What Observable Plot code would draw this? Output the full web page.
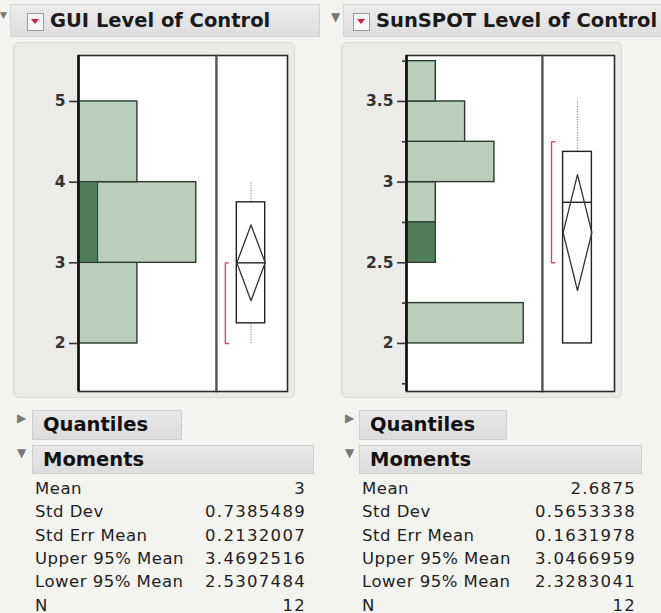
<!DOCTYPE html>
<html>
<head>
<meta charset="utf-8">
<script src="https://cdn.jsdelivr.net/npm/d3@7"></script>
<script src="https://cdn.jsdelivr.net/npm/@observablehq/plot@0.6"></script>
<style>
  html, body { margin: 0; padding: 0; }
  body { width: 661px; height: 613px; overflow: hidden; position: relative; background: #f3f3ef; font-family: "DejaVu Sans", sans-serif; color: #222; }
  .abs { position: absolute; }
  .band { background: linear-gradient(#ececec, #dedede); border: 1px solid #d4d4d4; box-sizing: border-box; }
  .title { font-weight: bold; font-size: 19.5px; white-space: nowrap; color: #1a1a1a; }
  .icon { width: 17px; height: 18px; box-sizing: border-box; border: 1.5px solid #9a9a9a; background: #f6f6f6; }
  .icon::after { content: ""; position: absolute; left: 3px; top: 5px; border-left: 4.5px solid transparent; border-right: 4.5px solid transparent; border-top: 5px solid #d11d3c; }
  .panel { background: #ebebe7; border: 1.5px solid #dcdcd8; border-radius: 5px; box-sizing: border-box; }
  .hdr { background: linear-gradient(#e8e8e8, #dcdcdc); border: 1px solid #cfcfcf; box-sizing: border-box; font-weight: bold; font-size: 19.5px; color: #111; }
  .tri { color: #777; font-size: 12px; }
  .row { font-size: 16.5px; white-space: nowrap; color: #1e1e1e; letter-spacing: 0.5px; }
  .val { text-align: right; letter-spacing: 1.3px; }
</style>
</head>
<body>
<div id="root"></div>
<script>
// ---------- data ----------
const titles = ["GUI Level of Control", "SunSPOT Level of Control"];

// histograms: bin lower edges, counts and selected (highlighted) counts
const guiBinLo = [2, 3, 4];
const guiBinWidth = 1;
const guiCounts = [3, 6, 3];
const guiSelected = [0, 1, 0];

const sunBinLo = [2, 2.25, 2.5, 2.75, 3, 3.25, 3.5];
const sunBinWidth = 0.25;
const sunCounts = [4, 0, 1, 1, 3, 2, 1];
const sunSelected = [0, 0, 1, 0, 0, 0, 0];

// axis ticks
const guiTicks = [2, 3, 4, 5];
const sunTicks = [2, 2.5, 3, 3.5];
const sunMinorTicks = [1.75, 2.25, 2.75, 3.25, 3.75];

// axis ranges
const guiYDomain = [1.405, 5.57];
const sunYDomain = [1.702, 3.785];
const guiCountMax = 7.03;
const sunCountMax = 4.64;

// box plot: min, q1, median, q3, max
const guiBox = [2, 2.25, 3, 3.75, 4];
const sunBox = [2, 2, 2.875, 3.1875, 3.5];
// means diamond: lower 95%, mean, upper 95%
const guiMeanCI = [2.5307484, 3, 3.4692516];
const sunMeanCI = [2.3283041, 2.6875, 3.0466959];
// shortest half bracket
const guiShortHalf = [2, 3];
const sunShortHalf = [2.5, 3.25];

// moments table
const momentLabels = ["Mean", "Std Dev", "Std Err Mean", "Upper 95% Mean", "Lower 95% Mean", "N"];
const guiMoments = ["3", "0.7385489", "0.2132007", "3.4692516", "2.5307484", "12"];
const sunMoments = ["2.6875", "0.5653338", "0.1631978", "3.0466959", "2.3283041", "12"];
const sectionNames = ["Quantiles", "Moments"];

// ---------- layout ----------
const root = document.getElementById("root");
function div(cls, css, text) {
  const d = document.createElement("div");
  d.className = "abs " + cls;
  Object.assign(d.style, css);
  if (text != null) d.textContent = text;
  root.appendChild(d);
  return d;
}

const layout = [
  {x0: 0, band: [10, 320], icon: 27, title: 50, panel: [13, 295], divider: 216, frameR: 288,
   qBox: [32, 182], mBox: [32, 314], tri: 17, label: 35, valR: 306},
  {x0: 330, band: [343, 672], icon: 353, title: 376, panel: [341, 622], divider: 542, frameR: 615,
   qBox: [359, 507], mBox: [359, 642], tri: 345, label: 362, valR: 636}
];

const BOXL = {c: 0.486, h: 0.2, br: 0.125, brTick: 0.045};

function histPlot(binLo, binW, counts, selected, yDomain, xMax, ticks, minor, width) {
  const data = binLo.map((lo, i) => ({lo, hi: lo + binW, n: counts[i], s: selected[i]}));
  const marks = [
    Plot.frame({fill: "white", stroke: null}),
    Plot.rectX(data.filter(d => d.n > 0), {x1: 0, x2: "n", y1: "lo", y2: "hi", fill: "#b9cfbb", stroke: "#2c3a2f", strokeWidth: 1.4}),
    Plot.rectX(data.filter(d => d.s > 0), {x1: 0, x2: "s", y1: "lo", y2: "hi", fill: "#4f7c59", stroke: "#2c3a2f", strokeWidth: 1}),
    Plot.frame({stroke: "#2a2a2a", strokeWidth: 1.6}),
    Plot.ruleX([0], {stroke: "#111", strokeWidth: 2.6}),
    Plot.axisY({ticks, tickSize: 9, tickPadding: 4, label: null, strokeWidth: 1.6, tickFormat: d => String(d)})
  ];
  if (minor) marks.push(Plot.axisY({ticks: minor, tickSize: 4, tickFormat: () => "", label: null, strokeWidth: 1.6}));
  return Plot.plot({
    width, height: 353, marginTop: 12, marginBottom: 5, marginLeft: 65, marginRight: 0,
    x: {domain: [0, xMax], axis: null},
    y: {domain: yDomain},
    style: {background: "transparent", fontFamily: "DejaVu Sans", fontSize: "15.5px", fontWeight: "bold", color: "#333", overflow: "visible"},
    marks
  });
}

function boxPlot(box, ci, half, yDomain, width) {
  const [mn, q1, med, q3, mx] = box;
  const [lo, mean, hi] = ci;
  const L = BOXL;
  const diamond = [
    {x: L.c, y: hi}, {x: L.c + L.h, y: mean}, {x: L.c, y: lo}, {x: L.c - L.h, y: mean}, {x: L.c, y: hi}
  ];
  const bracket = [
    {x: L.br + L.brTick, y: half[0]}, {x: L.br, y: half[0]}, {x: L.br, y: half[1]}, {x: L.br + L.brTick, y: half[1]}
  ];
  const marks = [
    Plot.frame({fill: "white", stroke: null}),
    Plot.line(bracket, {x: "x", y: "y", stroke: "#d5467a", strokeWidth: 1.4}),
  ];
  if (mx > q3) marks.push(Plot.ruleX([L.c], {y1: q3, y2: mx, stroke: "#999", strokeWidth: 1.2, strokeDasharray: "1.3,1.3"}));
  if (q1 > mn) marks.push(Plot.ruleX([L.c], {y1: mn, y2: q1, stroke: "#999", strokeWidth: 1.2, strokeDasharray: "1.3,1.3"}));
  marks.push(
    Plot.rect([box], {x1: L.c - L.h, x2: L.c + L.h, y1: q1, y2: q3, fill: "white", stroke: "#222", strokeWidth: 1.4}),
    Plot.ruleY([med], {x1: L.c - L.h, x2: L.c + L.h, stroke: "#222", strokeWidth: 1.4}),
    Plot.line(diamond, {x: "x", y: "y", stroke: "#333", strokeWidth: 1.3}),
    Plot.frame({stroke: "#2a2a2a", strokeWidth: 1.6}),
    Plot.ruleX([0], {stroke: "#555", strokeWidth: 1.8})
  );
  return Plot.plot({
    width, height: 353, marginTop: 12, marginBottom: 5, marginLeft: 0, marginRight: 1,
    x: {domain: [0, 1], axis: null},
    y: {domain: yDomain, axis: null},
    style: {background: "transparent", overflow: "visible"},
    marks
  });
}

const panels = [
  {binLo: guiBinLo, binW: guiBinWidth, counts: guiCounts, sel: guiSelected, yd: guiYDomain, xMax: guiCountMax, ticks: guiTicks, minor: null,
   box: guiBox, ci: guiMeanCI, half: guiShortHalf, moments: guiMoments},
  {binLo: sunBinLo, binW: sunBinWidth, counts: sunCounts, sel: sunSelected, yd: sunYDomain, xMax: sunCountMax, ticks: sunTicks, minor: sunMinorTicks,
   box: sunBox, ci: sunMeanCI, half: sunShortHalf, moments: sunMoments}
];

panels.forEach((p, i) => {
  const L = layout[i];
  // title band
  div("band", {left: L.band[0] + "px", top: "4px", width: (L.band[1] - L.band[0]) + "px", height: "33px"});
  div("tri", {left: (L.x0 + (i === 0 ? 0 : 1)) + "px", top: "10px", fontSize: i === 0 ? "9px" : "12px"}, "▼");
  div("icon", {left: L.icon + "px", top: "13px"});
  div("title", {left: L.title + "px", top: "9px"}, titles[i]);
  // panel
  div("panel", {left: L.panel[0] + "px", top: "42px", width: (L.panel[1] - L.panel[0]) + "px", height: "356px"});
  const hw = L.divider - L.panel[0];
  const h = histPlot(p.binLo, p.binW, p.counts, p.sel, p.yd, p.xMax, p.ticks, p.minor, hw);
  const hd = div("", {left: L.panel[0] + "px", top: "43px"});
  hd.appendChild(h);
  const b = boxPlot(p.box, p.ci, p.half, p.yd, L.frameR - L.divider);
  const bd = div("", {left: L.divider + "px", top: "43px"});
  bd.appendChild(b);
  // section headers
  div("tri", {left: L.tri + "px", top: "411px"}, "▶");
  div("hdr", {left: L.qBox[0] + "px", top: "410px", width: (L.qBox[1] - L.qBox[0]) + "px", height: "30px", paddingLeft: "10px", lineHeight: "28px"}, sectionNames[0]);
  div("tri", {left: L.tri + "px", top: "446px"}, "▼");
  div("hdr", {left: L.mBox[0] + "px", top: "445px", width: (L.mBox[1] - L.mBox[0]) + "px", height: "29px", paddingLeft: "10px", lineHeight: "27px"}, sectionNames[1]);
  // rows
  momentLabels.forEach((lab, r) => {
    const top = 479 + r * 23.3;
    div("row", {left: L.label + "px", top: top + "px"}, lab);
    div("row val", {left: (L.valR - 150) + "px", width: "150px", top: top + "px"}, p.moments[r]);
  });
});
</script>
</body>
</html>
